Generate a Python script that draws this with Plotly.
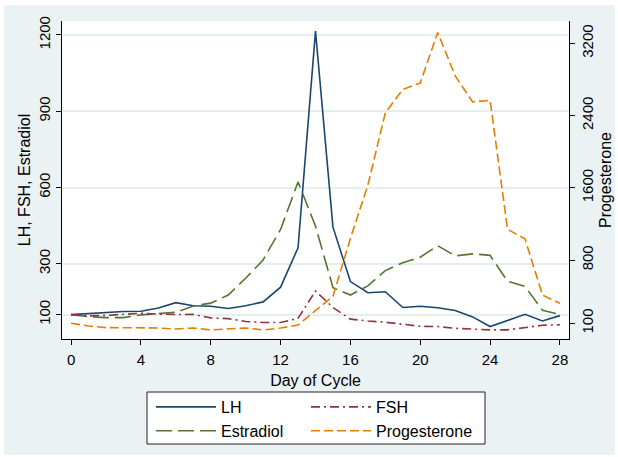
import plotly.graph_objects as go

days = list(range(29))
lh = [100, 104, 108, 112, 113, 126, 147, 135, 133, 124, 135, 150, 208, 363, 1215,
      444, 230, 186, 190, 128, 133, 127, 116, 91, 53, 76, 101, 75, 96]
fsh = [100, 95, 97, 100, 105, 102, 100, 101, 87, 84, 73, 69, 69, 85, 193,
       128, 82, 75, 70, 62, 54, 53, 46, 43, 40, 40, 49, 58, 60]
estradiol = [100, 92, 88, 88, 99, 103, 109, 134, 145, 177, 243, 315, 435, 622, 448,
             206, 177, 213, 273, 304, 326, 371, 331, 339, 333, 231, 211, 117, 101]
progesterone = [100, 70, 52, 52, 52, 48, 37, 48, 26, 37, 48, 26, 48, 80, 245,
                400, 1040, 1630, 2430, 2690, 2760, 3320, 2840, 2550, 2570, 1140, 1035, 413, 321]

x_ticks = [0, 4, 8, 12, 16, 20, 24, 28]
y_ticks = [100, 300, 600, 900, 1200]
y2_ticks = [100, 800, 1600, 2400, 3200]

NAVY = "#1a476f"
MAROON = "#90353b"
GREEN = "#55752f"
ORANGE = "#e37e00"
BG = "#eaf2f3"
FONT = "Liberation Sans, Arial, Helvetica, sans-serif"

fig = go.Figure()
fig.add_trace(go.Scatter(x=days, y=lh, name="LH", mode="lines",
                         line=dict(color=NAVY, width=1.6), legend="legend"))
fig.add_trace(go.Scatter(x=days, y=estradiol, name="Estradiol", mode="lines",
                         line=dict(color=GREEN, width=1.6, dash="16px,6px"), legend="legend"))
fig.add_trace(go.Scatter(x=days, y=fsh, name="FSH", mode="lines",
                         line=dict(color=MAROON, width=1.6, dash="9px,4px,2px,4px"), legend="legend2"))
fig.add_trace(go.Scatter(x=days, y=progesterone, name="Progesterone", mode="lines",
                         line=dict(color=ORANGE, width=1.6, dash="9px,4px"), yaxis="y2",
                         legend="legend2"))

L, R, T, B = 62, 49, 21, 118
W, H = 618, 457
pw, ph = W - L - R, H - T - B

def px_x(p):
    return (p - L) / pw

def px_y(p):
    return (H - B - p) / ph

axis_common = dict(showline=True, linecolor="black", linewidth=1, ticks="outside",
                   ticklen=5, tickcolor="black", tickwidth=1,
                   tickfont=dict(size=15, color="black", family=FONT),
                   zeroline=False, automargin=False)

fig.update_layout(
    width=W, height=H,
    margin=dict(l=L, r=R, t=T, b=B, autoexpand=False),
    paper_bgcolor="white", plot_bgcolor="white",
    font=dict(family=FONT, color="black", size=16),
    xaxis=dict(range=[-0.52, 28.52], tickvals=x_ticks, showgrid=False,
               title=dict(text="Day of Cycle", font=dict(size=16), standoff=7),
               ticklabelstandoff=2, **axis_common),
    yaxis=dict(range=[4, 1255], tickvals=y_ticks, tickangle=-90, showgrid=True,
               gridcolor="#e4eef0", gridwidth=1.5,
               title=dict(text="LH, FSH, Estradiol", font=dict(size=16), standoff=1),
               **axis_common),
    yaxis2=dict(range=[-74, 3447], tickvals=y2_ticks, tickangle=-90, overlaying="y",
                side="right", showgrid=False,
                title=dict(text="Progesterone", font=dict(size=16), standoff=4),
                **axis_common),
    legend=dict(x=px_x(151), y=px_y(390), xanchor="left", yanchor="top",
                orientation="v", itemwidth=60, bgcolor="rgba(0,0,0,0)", borderwidth=0,
                font=dict(size=16, family=FONT, color="black")),
    legend2=dict(x=px_x(306), y=px_y(390), xanchor="left", yanchor="top",
                 orientation="v", itemwidth=60, bgcolor="rgba(0,0,0,0)", borderwidth=0,
                 font=dict(size=16, family=FONT, color="black")),
    shapes=[
        dict(type="rect", xref="paper", yref="paper", layer="below",
             x0=px_x(4), x1=px_x(615), y0=px_y(455), y1=px_y(5),
             fillcolor=BG, line=dict(width=0)),
        dict(type="rect", xref="paper", yref="paper", layer="below",
             x0=0, x1=1, y0=0, y1=1, fillcolor="white", line=dict(width=0)),
        dict(type="rect", xref="paper", yref="paper", layer="above",
             x0=px_x(147), x1=px_x(485), y0=px_y(444), y1=px_y(392),
             fillcolor="white", line=dict(color="#222222", width=1)),
    ],
)

fig.write_html("out.html")
